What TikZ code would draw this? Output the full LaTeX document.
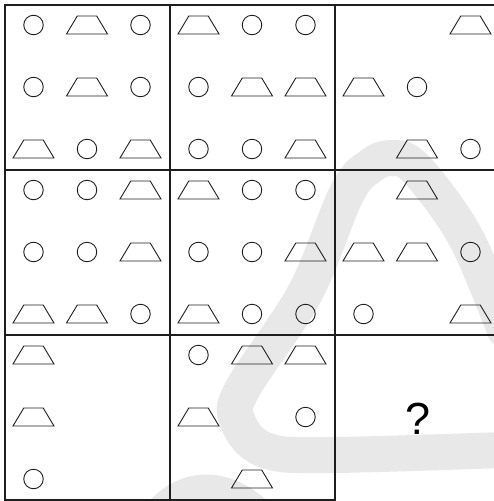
\documentclass[tikz,border=0pt]{standalone}
\usepackage{fontspec}
\newfontfamily\qfont{Liberation Sans}
\usetikzlibrary{shapes.geometric,backgrounds}
\definecolor{mxline}{RGB}{30,30,30}
\definecolor{mxmark}{RGB}{232,232,232}
\tikzset{
  ring/.style={circle, draw=mxline, line width=0.9pt, minimum size=19.5pt, inner sep=0pt},
  trap/.style={trapezium, trapezium angle=61, trapezium stretches=true, draw=mxline,
               line width=0.9pt, minimum width=41pt, minimum height=18pt, inner sep=1pt},
  cellline/.style={draw=mxline, line width=1.1pt},
  wmband/.style={mxmark, line width=36pt, line cap=round, line join=round},
  qmark/.style={font=\qfont\fontsize{45}{54}\selectfont, text=black, inner sep=0pt},
}

\begin{document}
\begin{tikzpicture}[x=1pt, y=-1pt]
\useasboundingbox (0,0) rectangle (493,501);
\begin{scope}[on background layer]
\draw[wmband] plot[smooth, tension=0.6] coordinates {(530,449) (330,455) (265,450) (238,422) (242,390) (305,293) (347,193) (372,165) (392,158) (412,165) (445,205) (472,250) (505,330)};
\draw[wmband] (150,530) .. controls (180,480) and (230,480) .. (270,530);
\end{scope}
\draw[cellline] (5,5) rectangle (500,335);
\draw[cellline] (5,335) -- (5,500) -- (335,500) -- (335,5);
\draw[cellline] (170,5) -- (170,500);
\draw[cellline] (5,170) -- (500,170);
\foreach \kind/\gx/\gy [count=\n] in {
  ring/0/0, trap/1/0, ring/2/0, ring/0/1, trap/1/1, ring/2/1, trap/0/2, ring/1/2, trap/2/2,
  trap/3/0, ring/4/0, ring/5/0, ring/3/1, trap/4/1, trap/5/1, ring/3/2, ring/4/2, trap/5/2,
  trap/8/0, trap/6/1, ring/7/1, trap/7/2, ring/8/2,
  ring/0/3, ring/1/3, trap/2/3, ring/0/4, ring/1/4, trap/2/4, trap/0/5, trap/1/5, ring/2/5,
  trap/3/3, ring/4/3, ring/5/3, ring/3/4, ring/4/4, trap/5/4, trap/3/5, ring/4/5, ring/5/5,
  trap/7/3, trap/6/4, trap/7/4, ring/8/4, ring/6/5, trap/8/5,
  trap/0/6, trap/0/7, ring/0/8,
  ring/3/6, trap/4/6, trap/5/6, trap/3/7, ring/5/7, trap/4/8}{
  \pgfmathsetmacro{\px}{33.5+165*int(\gx/3)+53.5*mod(\gx,3)}
  \pgfmathsetmacro{\py}{25+165*int(\gy/3)+62*mod(\gy,3)}
  \node[\kind] (fig\n) at (\px,\py) {};
}
\node[qmark] (query) at (418,419) {?};
\end{tikzpicture}
\end{document}
